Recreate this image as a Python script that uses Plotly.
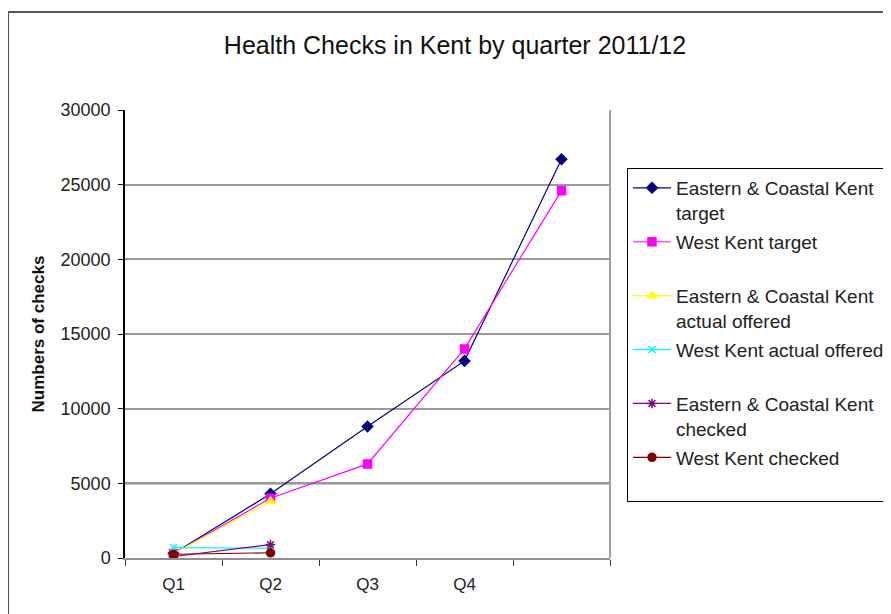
import plotly.graph_objects as go

quarters = ["Q1", "Q2", "Q3", "Q4", " "]

ec_target = [300, 4300, 8800, 13200, 26700]
wk_target = [300, 4000, 6300, 14000, 24600]
ec_offered = [300, 3800]
wk_offered = [700, 650]
ec_checked = [100, 900]
wk_checked = [250, 350]

series_names = [
    "Eastern & Coastal Kent<br>target",
    "West Kent target<br>\u00a0",
    "Eastern & Coastal Kent<br>actual offered",
    "West Kent actual offered<br>\u00a0",
    "Eastern & Coastal Kent<br>checked",
    "West Kent checked<br>\u00a0",
]
series_values = [ec_target, wk_target, ec_offered, wk_offered, ec_checked, wk_checked]
colors = ["#000080", "#FF00FF", "#FFFF00", "#00FFFF", "#800080", "#800000"]
symbols = ["diamond", "square", "triangle-up", "x-thin-open", "asterisk-open", "circle"]
sizes = [8, 8, 8, 7, 8, 8]

FONT = "Liberation Sans, Arial, sans-serif"

# page body has an 8px margin: plot area target 125..610 x 110..558 in the window
W, H = 883, 606
L, T = 117, 102
PW, PH = 485, 448

fig = go.Figure()
for i, (name, vals, c, s, sz) in enumerate(zip(series_names, series_values, colors, symbols, sizes)):
    fig.add_trace(go.Scatter(
        x=quarters[:len(vals)], y=vals, name=name, mode="lines+markers",
        legendgroup=f"g{i}",
        line=dict(color=c, width=1.2),
        marker=dict(color=c, symbol=s, size=sz, line=dict(color=c, width=1.5)),
    ))

fig.update_layout(
    width=W, height=H,
    margin=dict(l=L, r=W - L - PW, t=T, b=H - T - PH, autoexpand=False),
    paper_bgcolor="white", plot_bgcolor="white",
    font=dict(family=FONT, color="#222222"),
    title=dict(text="Health Checks in Kent by quarter 2011/12", x=(455 - 8) / W, xanchor="center",
               y=1 - 37 / H, yanchor="middle", font=dict(size=25, color="#111111")),
    showlegend=True,
    legend=dict(x=1.035, xanchor="left", y=(448 - 58) / 448, yanchor="top",
                bgcolor="white", bordercolor="black", borderwidth=1,
                font=dict(size=19, color="#222222"), valign="top",
                itemwidth=38, tracegroupgap=1.5),
    xaxis=dict(type="category", categoryorder="array", categoryarray=quarters,
               range=[-0.5, 4.5], tickson="boundaries", ticks="outside", ticklen=6,
               tickcolor="#333333", showline=True, linecolor="#909090", linewidth=2,
               mirror=False, showgrid=False, tickfont=dict(size=17), ticklabelstandoff=10,
               fixedrange=True),
    yaxis=dict(range=[0, 30000], dtick=5000, tickformat="d", ticks="outside", ticklen=5,
               tickcolor="#111111", showline=True, linecolor="black", linewidth=1.5,
               showgrid=True, gridcolor="#999999", gridwidth=2, zeroline=False,
               tickfont=dict(size=18), ticklabelstandoff=4,
               title=dict(text="<b>Numbers of checks</b>", font=dict(size=17, color="#111111"),
                          standoff=12)),
)

# plot area right border and emphasised 5000 line, outer chart border
fig.add_shape(type="line", xref="paper", yref="paper", x0=1, x1=1, y0=0, y1=1,
              line=dict(color="#a0a0a0", width=2))
fig.add_shape(type="line", xref="paper", yref="y", x0=0, x1=1, y0=5000, y1=5000,
              line=dict(color="#111111", width=2), layer="between")
fig.add_shape(type="rect", xref="paper", yref="paper",
              x0=-L / PW, x1=2, y0=-1, y1=(PH + T - 4) / PH,
              line=dict(color="#555555", width=2))

fig.write_html("out.html")
